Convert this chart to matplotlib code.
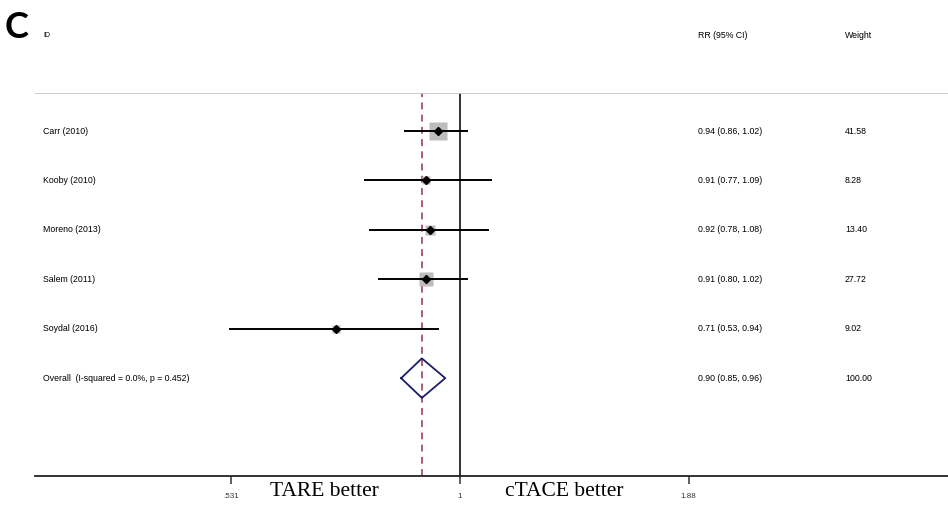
import numpy as np
import matplotlib.pyplot as plt
from matplotlib.transforms import blended_transform_factory

# studies (top to bottom)
studies = ['Carr (2010)', 'Kooby (2010)', 'Moreno (2013)', 'Salem (2011)', 'Soydal (2016)']
rr      = [0.94, 0.91, 0.92, 0.91, 0.71]
lo      = [0.86, 0.77, 0.78, 0.80, 0.53]
hi      = [1.02, 1.09, 1.08, 1.02, 0.94]
weights = [41.58, 8.28, 13.40, 27.72, 9.02]
rr_txt  = ['0.94 (0.86, 1.02)', '0.91 (0.77, 1.09)', '0.92 (0.78, 1.08)',
           '0.91 (0.80, 1.02)', '0.71 (0.53, 0.94)']
w_txt   = ['41.58', '8.28', '13.40', '27.72', '9.02']

overall_label = 'Overall  (I-squared = 0.0%, p = 0.452)'
overall_rr, overall_lo, overall_hi = 0.90, 0.85, 0.96
overall_rr_txt, overall_w_txt = '0.90 (0.85, 0.96)', '100.00'

xticks      = [0.531, 1, 1.88]
xticklabels = ['.531', '1', '1.88']

W, H = 948, 508
fig = plt.figure(figsize=(W / 100, H / 100), dpi=100)
ax = fig.add_axes([35 / W, (H - 476) / H, (W - 35) / W, (476 - 93) / H])

sans = 'Liberation Sans'
fs = 6.3

rows = np.arange(1, len(studies) + 1)
y_over = len(studies) + 1

# study squares, CI lines and point estimates
for y, r, l, h, w in zip(rows, rr, lo, hi, weights):
    side = 17.5 * np.sqrt(w / max(weights)) * 0.72
    ax.plot(r, y, marker='s', ms=side, color='#bdbdbd', mec='none', zorder=2)
    ax.plot([l, h], [y, y], color='black', lw=1.4, zorder=3)
    ax.plot(r, y, marker='D', ms=4.2, color='black', zorder=4)

# overall diamond
dh = 0.4
ax.plot([overall_lo, overall_rr, overall_hi, overall_rr, overall_lo],
        [y_over, y_over - dh, y_over, y_over + dh, y_over],
        color='#1c1c6b', lw=1.3, zorder=4)

# reference lines
ax.axvline(1, color='#222222', lw=1.3, zorder=1)
ax.axvline(overall_rr, color='#9a3045', lw=1.1, ls=(0, (4.5, 3.5)), zorder=1)
ax.axhline(0.23, color='#c4c4c4', lw=1.2, zorder=1)

ax.set_xscale('log')
ax.set_xlim(0.3093, 3.847)
ax.set_ylim(7.98, 0.23)
ax.set_yticks([])
ax.set_xticks(xticks)
ax.set_xticklabels(xticklabels, fontsize=5.8, family=sans, color='#333333')
ax.minorticks_off()
ax.tick_params(axis='x', length=6, width=1.1, pad=6, color='#333333')
for s in ['left', 'right', 'top']:
    ax.spines[s].set_visible(False)
ax.spines['bottom'].set_linewidth(1.3)
ax.spines['bottom'].set_color('#222222')

# text columns (x in figure pixels, y in row units)
tr = blended_transform_factory(fig.transFigure, ax.transData)
def col(px):
    return px / W

y_head = 1 + (35 - 131) / 49.4
ax.text(col(43), y_head, 'ID', transform=tr, fontsize=5, family=sans, va='center', clip_on=False)
ax.text(col(698), y_head, 'RR (95% CI)', transform=tr, fontsize=fs, family=sans, va='center', clip_on=False)
ax.text(col(845), y_head, 'Weight', transform=tr, fontsize=fs, family=sans, va='center', clip_on=False)

for y, s, t, w in zip(rows, studies, rr_txt, w_txt):
    ax.text(col(43), y, s, transform=tr, fontsize=fs, family=sans, va='center')
    ax.text(col(698), y, t, transform=tr, fontsize=fs, family=sans, va='center')
    ax.text(col(845), y, w, transform=tr, fontsize=fs, family=sans, va='center')
ax.text(col(43), y_over, overall_label, transform=tr, fontsize=fs, family=sans, va='center')
ax.text(col(698), y_over, overall_rr_txt, transform=tr, fontsize=fs, family=sans, va='center')
ax.text(col(845), y_over, overall_w_txt, transform=tr, fontsize=fs, family=sans, va='center')

# direction labels under the axis
fig.text(324 / W, 1 - 492 / H, 'TARE better', fontsize=15.5, family='Liberation Serif',
         ha='center', va='center')
fig.text(564 / W, 1 - 492 / H, 'cTACE better', fontsize=15.5, family='Liberation Serif',
         ha='center', va='center')

# panel letter
fig.text(5 / W, 1 - 27 / H, 'C', fontsize=26, family='Lato', fontweight='bold',
         ha='left', va='center')

fig.savefig('out.png', dpi=100)
